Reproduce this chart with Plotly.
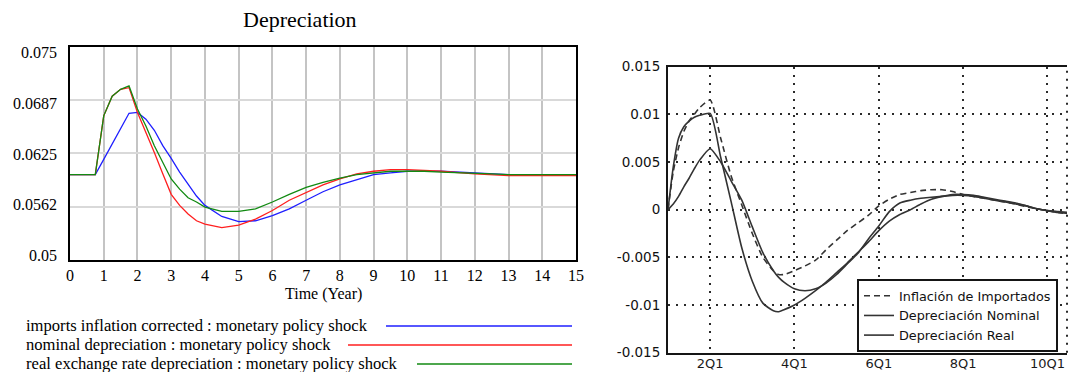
import plotly.graph_objects as go

W, H = 1069, 372
def px(x): return x / W
def py(y): return 1 - y / H

# ---------------- Left chart data (Vensim style) ----------------
time = [0, 0.75, 1, 1.25, 1.5, 1.75, 2, 2.25, 2.5, 2.75, 3, 3.25, 3.5, 3.75, 4,
        4.5, 5, 5.5, 6, 6.5, 7, 7.5, 8, 8.5, 9, 9.5, 10, 10.5, 11, 12, 12.5, 13, 14, 15]
imports_inflation = [0.0600, 0.0600, 0.0618, 0.0636, 0.0654, 0.0672, 0.0673, 0.0665, 0.0652, 0.0634,
                     0.0619, 0.0603, 0.0589, 0.0575, 0.0564, 0.0551, 0.0545, 0.0546, 0.0552, 0.0560,
                     0.0570, 0.0580, 0.0588, 0.0594, 0.0600, 0.0602, 0.0604, 0.0604, 0.0604, 0.0602,
                     0.0601, 0.0600, 0.0600, 0.0600]
nominal_dep = [0.0600, 0.0600, 0.0669, 0.0692, 0.0700, 0.0702, 0.0673, 0.0650, 0.0626, 0.0601,
               0.0577, 0.0564, 0.0554, 0.0546, 0.0542, 0.0538, 0.0541, 0.0548, 0.0558, 0.0570,
               0.0579, 0.0588, 0.0595, 0.0601, 0.0604, 0.0606, 0.0606, 0.0605, 0.0604, 0.0601,
               0.0600, 0.0599, 0.0599, 0.0599]
real_dep = [0.0600, 0.0600, 0.0669, 0.0692, 0.0700, 0.0704, 0.0677, 0.0657, 0.0634, 0.0614,
            0.0595, 0.0583, 0.0573, 0.0568, 0.0562, 0.0557, 0.0557, 0.0560, 0.0568, 0.0577,
            0.0585, 0.0591, 0.0596, 0.0600, 0.0602, 0.0604, 0.0604, 0.0604, 0.0603, 0.0602,
            0.0601, 0.0600, 0.0600, 0.0600]
left_ytick_vals = [0.05, 0.05625, 0.0625, 0.06875, 0.075]
left_ytick_text = ["0.05", "0.0562", "0.0625", "0.0687", "0.075"]
left_names = ["imports inflation corrected : monetary policy shock",
              "nominal depreciation : monetary policy shock",
              "real exchange rate depreciation : monetary policy shock"]
left_colors = ["#1f1fff", "#ff1f1f", "#128a12"]

# ---------------- Right chart data (scanned chart) ----------------
quarters = [1, 1.5, 2, 2.5, 3, 3.5, 4, 5, 6, 7, 8, 9, 10, 11, 11.5, 12, 13, 14, 15, 16, 17, 18,
            19, 20, 21, 22, 23, 24, 25, 26, 27, 28, 29, 30, 31, 32, 33, 34, 35, 36, 37, 38, 39]
inflacion_importados = [0, 0.0040, 0.0065, 0.0082, 0.0093, 0.0100, 0.0107, 0.0115, 0.0075, 0.0035,
                        0.0005, -0.0025, -0.0050, -0.0064, -0.0068, -0.0068, -0.0064, -0.0059,
                        -0.0053, -0.0042, -0.0032, -0.0022, -0.0014, -0.0006, 0.0004, 0.0011,
                        0.0016, 0.0018, 0.0020, 0.0021, 0.0021, 0.0019, 0.0016, 0.0014, 0.0012,
                        0.0010, 0.0008, 0.0006, 0.0003, 0.0001, -0.0001, -0.0003, -0.0004]
depreciacion_nominal = [0, 0.0045, 0.0075, 0.0087, 0.0093, 0.0097, 0.0099, 0.0101, 0.0055, 0.0008,
                        -0.0040, -0.0075, -0.0098, -0.0106, -0.0107, -0.0105, -0.0100, -0.0093,
                        -0.0085, -0.0076, -0.0066, -0.0056, -0.0045, -0.0034, -0.0022, -0.0012,
                        -0.0005, 0.0000, 0.0006, 0.0011, 0.0014, 0.0016, 0.0016, 0.0015, 0.0013,
                        0.0011, 0.0009, 0.0007, 0.0004, 0.0001, -0.0001, -0.0003, -0.0004]
depreciacion_real = [0, 0.0006, 0.0014, 0.0024, 0.0033, 0.0043, 0.0052, 0.0064, 0.0050, 0.0030,
                     0.0010, -0.0018, -0.0045, -0.0064, -0.0071, -0.0076, -0.0083, -0.0085,
                     -0.0083, -0.0077, -0.0068, -0.0057, -0.0046, -0.0031, -0.0017, -0.0002,
                     0.0007, 0.0010, 0.0012, 0.0013, 0.0014, 0.0015, 0.0015, 0.0014, 0.0012,
                     0.0010, 0.0008, 0.0006, 0.0004, 0.0001, -0.0001, -0.0002, -0.0003]
right_xtick_vals = [5, 13, 21, 29, 37]
right_xtick_text = ["2Q1", "4Q1", "6Q1", "8Q1", "10Q1"]
right_ytick_vals = [-0.015, -0.01, -0.005, 0, 0.005, 0.01, 0.015]
right_ytick_text = ["-0.015", "-0.01", "-0.005", "0", "0.005", "0.01", "0.015"]
right_names = ["Inflación de Importados", "Depreciación Nominal", "Depreciación Real"]

SERIF = "Liberation Serif, Times New Roman, serif"
SANS = "DejaVu Sans, Verdana, sans-serif"

fig = go.Figure()
for ys, name, col in zip([imports_inflation, nominal_dep, real_dep], left_names, left_colors):
    fig.add_trace(go.Scatter(x=time, y=ys, mode="lines", name=name, showlegend=False,
                             line=dict(color=col, width=1.3), xaxis="x", yaxis="y",
                             hoverinfo="skip"))
# invisible trace so the label-only overlay axis is drawn
fig.add_trace(go.Scatter(x=time, y=imports_inflation, mode="lines", showlegend=False,
                         opacity=0, line=dict(width=0), xaxis="x", yaxis="y3", hoverinfo="skip"))

for ys, name, dash in zip([inflacion_importados, depreciacion_nominal, depreciacion_real],
                          right_names, ["6px,4px", "solid", "solid"]):
    fig.add_trace(go.Scatter(x=quarters, y=ys, mode="lines", name=name, legend="legend2",
                             line=dict(color="#333333", width=1.6, dash=dash, shape="spline",
                                       smoothing=0.6),
                             xaxis="x2", yaxis="y2", hoverinfo="skip"))

fig.update_layout(
    template="none",
    width=W, height=H, margin=dict(l=0, r=0, t=0, b=0, autoexpand=False),
    paper_bgcolor="white", plot_bgcolor="white", hovermode=False,
    xaxis=dict(domain=[px(70), px(576)], range=[0, 15], anchor="y", automargin=False,
               tickmode="array", tickvals=list(range(16)),
               showgrid=True, gridcolor="#c4c4c4", gridwidth=1.5, zeroline=False,
               showline=True, linecolor="black", linewidth=2, mirror=True, ticks="",
               tickfont=dict(family=SERIF, size=16, color="black")),
    yaxis=dict(domain=[py(260), py(46.7)], range=[0.05, 0.075], anchor="x", automargin=False,
               tickmode="array", tickvals=left_ytick_vals, showticklabels=False,
               showgrid=True, gridcolor="#d9d9d9", gridwidth=2, zeroline=False,
               showline=True, linecolor="black", linewidth=2, mirror=True, ticks=""),
    yaxis3=dict(overlaying="y", anchor="x", side="left", range=[0.049446, 0.075714],
                automargin=False,
                tickmode="array", tickvals=left_ytick_vals, ticktext=left_ytick_text,
                showgrid=False, zeroline=False, showline=False, ticks="",
                ticklabelstandoff=12,
                tickfont=dict(family=SERIF, size=16, color="black")),
    xaxis2=dict(domain=[px(668), px(1067)], range=[1, 38.86], anchor="y2", automargin=False,
                tickmode="array", tickvals=right_xtick_vals, ticktext=right_xtick_text,
                showgrid=True, gridcolor="#2a2a2a", gridwidth=2, griddash="2px,6px",
                zeroline=False, showline=True, linecolor="#151515", linewidth=2,
                mirror=True, ticks="", ticklabelstandoff=-2,
                tickfont=dict(family=SANS, size=13, color="#1a1a1a")),
    yaxis2=dict(domain=[py(352.7), py(66.7)], range=[-0.015, 0.015], anchor="x2",
                automargin=False,
                tickmode="array", tickvals=right_ytick_vals, ticktext=right_ytick_text,
                showgrid=True, gridcolor="#2a2a2a", gridwidth=2, griddash="2px,6px",
                zeroline=False, showline=True, linecolor="#151515", linewidth=2,
                mirror=False, ticks="", ticklabelstandoff=3,
                tickfont=dict(family=SANS, size=13.5, color="#111111")),
    legend2=dict(x=px(857), y=py(279), xanchor="left", yanchor="top",
                 bgcolor="white", bordercolor="#151515", borderwidth=2,
                 font=dict(family=SANS, size=12.8, color="#111111"),
                 tracegroupgap=0, itemwidth=30),
)

# right border of the scanned chart (faint dotted)
fig.add_shape(type="line", xref="x2 domain", yref="y2 domain", x0=1, x1=1, y0=0, y1=1,
              line=dict(color="#2a2a2a", width=2, dash="2px,6px"))

# left chart title and axis title
fig.add_annotation(text="Depreciation", x=px(300), y=py(20), xref="paper", yref="paper",
                   showarrow=False, xanchor="center", yanchor="middle",
                   font=dict(family=SERIF, size=22, color="black"))
fig.add_annotation(text="Time (Year)", x=px(323), y=py(294), xref="paper", yref="paper",
                   showarrow=False, xanchor="center", yanchor="middle",
                   font=dict(family=SERIF, size=16, color="black"))

# Vensim-style legend: text followed by a line sample
legend_rows_y = [325, 344, 363]
legend_line_start = [386, 348, 417]
for name, col, yy, xs in zip(left_names, left_colors, legend_rows_y, legend_line_start):
    fig.add_annotation(text=name, x=px(24), y=py(yy), xref="paper", yref="paper",
                       showarrow=False, xanchor="left", yanchor="middle",
                       font=dict(family=SERIF, size=16.6, color="black"))
    fig.add_shape(type="line", xref="paper", yref="paper", x0=px(xs), x1=px(572),
                  y0=py(yy + 1), y1=py(yy + 1), line=dict(color=col, width=1.5))

fig.write_html("out.html")
